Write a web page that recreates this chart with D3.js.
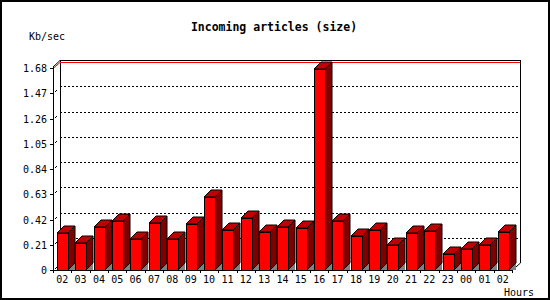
<!DOCTYPE html>
<html>
<head>
<meta charset="utf-8">
<script src="https://cdn.jsdelivr.net/npm/d3@7"></script>
<style>
  body { margin: 0; background: #fff; }
  text { font-family: "DejaVu Sans Mono", monospace; font-size: 10px; fill: #000; }
</style>
</head>
<body>
<div id="chart"></div>
<script>
var w = 550;
var h = 300;

// hours along the x axis
var hours = ["02","03","04","05","06","07","08","09","10","11","12","13",
             "14","15","16","17","18","19","20","21","22","23","00","01","02"];
// Kb/sec per hour
var kbps = [0.305,0.222,0.355,0.408,0.255,0.388,0.255,0.38,0.605,0.333,0.43,0.313,
            0.355,0.347,1.669,0.408,0.28,0.333,0.205,0.305,0.324,0.13,0.172,0.205,0.313];
var yTicks = [0, 0.21, 0.42, 0.63, 0.84, 1.05, 1.26, 1.47, 1.68];
var yMax = 1.68;

var depth = 7; // 3d offset

var svg = d3.select("#chart").append("svg")
  .attr("width", w)
  .attr("height", h);

// outer frame
svg.append("rect")
  .attr("x", 1).attr("y", 1)
  .attr("width", w - 2).attr("height", h - 2)
  .attr("fill", "#fff")
  .attr("stroke", "#000")
  .attr("stroke-width", 2);

var x = d3.scaleBand()
  .domain(d3.range(hours.length))
  .range([53, 512]);

var y = d3.scaleLinear()
  .domain([0, yMax])
  .range([270, 68]);

var g = svg.append("g").attr("shape-rendering", "crispEdges");

// back wall grid lines (dotted)
g.selectAll(".grid")
  .data(yTicks.filter(d => d > 0 && d < yMax))
  .enter().append("line")
  .attr("x1", 53 + depth).attr("x2", 512 + depth)
  .attr("y1", d => Math.round(y(d)) - depth + 0.5)
  .attr("y2", d => Math.round(y(d)) - depth + 0.5)
  .attr("stroke", "#000")
  .attr("stroke-dasharray", "2,2");

// small slanted marks between the front axis and back wall
svg.selectAll(".slant")
  .data(yTicks.slice(0, -1))
  .enter().append("line")
  .attr("x1", 55).attr("y1", d => Math.round(y(d)) - 1)
  .attr("x2", 57).attr("y2", d => Math.round(y(d)) - 3)
  .attr("stroke", "#000");

// back wall outline
g.append("line").attr("x1", 60.5).attr("x2", 60.5).attr("y1", 60).attr("y2", 263).attr("stroke", "#000");
g.append("line").attr("x1", 520.5).attr("x2", 520.5).attr("y1", 60).attr("y2", 263).attr("stroke", "#000");
g.append("line").attr("x1", 60).attr("x2", 521).attr("y1", 60.5).attr("y2", 60.5).attr("stroke", "#000");

// max line in red
g.append("line").attr("x1", 60).attr("x2", 520)
  .attr("y1", 62.5).attr("y2", 62.5).attr("stroke", "#f00");
svg.append("line").attr("x1", 53).attr("y1", 68.5).attr("x2", 60).attr("y2", 62.5).attr("stroke", "#f00");
svg.append("line").attr("x1", 53).attr("y1", 67).attr("x2", 60).attr("y2", 60.5).attr("stroke", "#000");

// floor right edge
svg.append("line").attr("x1", 512).attr("y1", 270.5).attr("x2", 520.5).attr("y2", 263).attr("stroke", "#000");

// bars
var bars = svg.selectAll(".bar")
  .data(kbps)
  .enter().append("g")
  .attr("class", "bar");

function bx0(i) { return Math.round(x(i)) + 4; }
function bx1(i) { return Math.round(x(i)) + 15; }

// floor shadow triangle
bars.append("polygon")
  .attr("points", (d, i) => [[bx1(i), 270], [bx1(i) + depth, 263], [bx1(i) + depth, 270]].join(" "))
  .attr("fill", "#808080");

// side face
bars.append("polygon")
  .attr("points", (d, i) => {
    var t = Math.round(y(d));
    return [[bx1(i), t], [bx1(i) + depth, t - depth], [bx1(i) + depth, 263], [bx1(i), 270]].join(" ");
  })
  .attr("fill", "#800000")
  .attr("stroke", "#000");

// top face
bars.append("polygon")
  .attr("points", (d, i) => {
    var t = Math.round(y(d));
    return [[bx0(i), t], [bx0(i) + depth, t - depth], [bx1(i) + depth, t - depth], [bx1(i), t]].join(" ");
  })
  .attr("fill", "#c00000")
  .attr("stroke", "#000");

// front face
bars.append("rect")
  .attr("x", (d, i) => bx0(i) + 0.5)
  .attr("y", d => Math.round(y(d)) + 0.5)
  .attr("width", (d, i) => bx1(i) - bx0(i))
  .attr("height", d => 270 - Math.round(y(d)))
  .attr("fill", "#f00")
  .attr("stroke", "#000");

// front y axis
svg.append("line").attr("x1", 53.5).attr("x2", 53.5).attr("y1", 67).attr("y2", 271).attr("stroke", "#000");
svg.selectAll(".ytick")
  .data(yTicks)
  .enter().append("line")
  .attr("x1", 50).attr("x2", 53)
  .attr("y1", d => Math.round(y(d)) + 0.5)
  .attr("y2", d => Math.round(y(d)) + 0.5)
  .attr("stroke", "#000");
svg.selectAll(".ylabel")
  .data(yTicks)
  .enter().append("text")
  .attr("x", 47)
  .attr("y", d => Math.round(y(d)) + 4)
  .attr("text-anchor", "end")
  .text(d => d === 0 ? "0" : d.toFixed(2));

// x axis
svg.append("line").attr("x1", 53).attr("x2", 513).attr("y1", 270.5).attr("y2", 270.5).attr("stroke", "#000");
svg.selectAll(".xtick")
  .data(d3.range(hours.length + 1))
  .enter().append("line")
  .attr("x1", i => Math.round(53 + i * x.step()) + 0.5)
  .attr("x2", i => Math.round(53 + i * x.step()) + 0.5)
  .attr("y1", 270).attr("y2", 273)
  .attr("stroke", "#000");
svg.selectAll(".xlabel")
  .data(hours)
  .enter().append("text")
  .attr("x", (d, i) => x(i) + x.bandwidth() / 2)
  .attr("y", 283)
  .attr("text-anchor", "middle")
  .text(d => d);

// titles
svg.append("text")
  .attr("x", 274).attr("y", 31)
  .attr("text-anchor", "middle")
  .attr("font-weight", "bold")
  .style("font-size", "11.5px")
  .text("Incoming articles (size)");

svg.append("text")
  .attr("x", 29).attr("y", 40)
  .text("Kb/sec");

svg.append("text")
  .attr("x", 534).attr("y", 296)
  .attr("text-anchor", "end")
  .text("Hours");
</script>
</body>
</html>
